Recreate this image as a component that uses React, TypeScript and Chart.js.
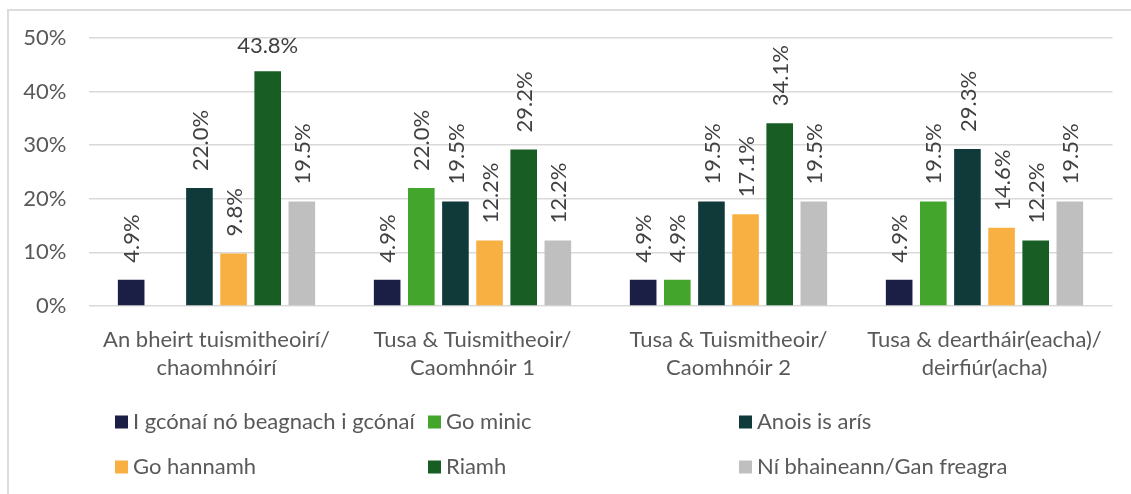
import React, { useEffect, useRef } from "react";
import { Chart, registerables } from "chart.js";

Chart.register(...registerables);

const categories: string[][] = [
  ["An bheirt tuismitheoirí/", "chaomhnóirí"],
  ["Tusa & Tuismitheoir/", "Caomhnóir 1"],
  ["Tusa & Tuismitheoir/", "Caomhnóir 2"],
  ["Tusa & deartháir(eacha)/", "deirfiúr(acha)"],
];

const seriesNames = [
  "I gcónaí nó beagnach i gcónaí",
  "Go minic",
  "Anois is arís",
  "Go hannamh",
  "Riamh",
  "Ní bhaineann/Gan freagra",
];

const alwaysValues = [4.9, 4.9, 4.9, 4.9];
const oftenValues = [null, 22.0, 4.9, 19.5];
const sometimesValues = [22.0, 19.5, 19.5, 29.3];
const rarelyValues = [9.8, 12.2, 17.1, 14.6];
const neverValues = [43.8, 29.2, 34.1, 12.2];
const naValues = [19.5, 12.2, 19.5, 19.5];

const seriesColors = ["#1B1F45", "#43A52B", "#10393A", "#F9B042", "#185E24", "#BFBFBF"];

const yTicks = [0, 10, 20, 30, 40, 50];

const FONT = "Lato";
const FONT_SIZE = 22;

const labelPlugin = {
  id: "barLabels",
  afterDatasetsDraw(chart: any) {
    const ctx = chart.ctx;
    const area = chart.chartArea;
    ctx.save();
    ctx.font = `${FONT_SIZE}px ${FONT}`;
    ctx.fillStyle = "#404040";
    chart.data.datasets.forEach((ds: any, di: number) => {
      const meta = chart.getDatasetMeta(di);
      meta.data.forEach((el: any, i: number) => {
        const v = ds.data[i];
        if (v === null || v === undefined) return;
        const text = v.toFixed(1) + "%";
        const w = ctx.measureText(text).width;
        const gap = 17;
        if (el.y - gap - w < area.top - 12) {
          ctx.textAlign = "center";
          ctx.textBaseline = "middle";
          ctx.fillText(text, el.x, el.y - 25);
        } else {
          ctx.save();
          ctx.translate(el.x, el.y - gap);
          ctx.rotate(-Math.PI / 2);
          ctx.textAlign = "left";
          ctx.textBaseline = "middle";
          ctx.fillText(text, 0, 1);
          ctx.restore();
        }
      });
    });
    ctx.restore();
  },
};

const legendPlugin = {
  id: "gridLegend",
  afterDraw(chart: any) {
    const ctx = chart.ctx;
    const colX = [115, 428, 739];
    const rowY = [422, 467];
    const box = 13;
    ctx.save();
    ctx.font = `${FONT_SIZE}px ${FONT}`;
    ctx.textBaseline = "middle";
    ctx.textAlign = "left";
    chart.data.datasets.forEach((ds: any, i: number) => {
      const x = colX[i % 3];
      const y = rowY[Math.floor(i / 3)];
      ctx.fillStyle = ds.backgroundColor;
      ctx.fillRect(x, y - box / 2, box, box);
      ctx.fillStyle = "#595959";
      ctx.fillText(ds.label, x + box + 5, y);
    });
    ctx.restore();
  },
};

export default function App() {
  const ref = useRef<HTMLCanvasElement | null>(null);

  useEffect(() => {
    if (!ref.current) return;
    const valueSets = [alwaysValues, oftenValues, sometimesValues, rarelyValues, neverValues, naValues];
    const chart = new Chart(ref.current, {
      type: "bar",
      data: {
        labels: categories,
        datasets: valueSets.map((vals, i) => ({
          label: seriesNames[i],
          data: vals,
          backgroundColor: seriesColors[i],
          categoryPercentage: 0.8,
          barPercentage: 0.78,
        })),
      },
      options: {
        animation: false,
        responsive: true,
        maintainAspectRatio: false,
        layout: { padding: { top: 38, right: 18.5, left: 0, bottom: 0 } },
        plugins: {
          legend: { display: false },
          tooltip: { enabled: false },
        },
        scales: {
          x: {
            grid: { display: false, drawTicks: false },
            border: { display: false },
            ticks: {
              font: { family: FONT, size: FONT_SIZE, lineHeight: 1.27 },
              color: "#595959",
              padding: 20,
              maxRotation: 0,
              autoSkip: false,
            },
            afterFit(scale: any) {
              scale.height = 188;
            },
          },
          y: {
            min: 0,
            max: 50,
            afterBuildTicks(scale: any) {
              scale.ticks = yTicks.map((v) => ({ value: v }));
            },
            grid: { color: "#D9D9D9", lineWidth: 1.5, drawTicks: false },
            border: { display: false },
            ticks: {
              font: { family: FONT, size: FONT_SIZE },
              color: "#595959",
              padding: 22,
              callback: (v: any) => v + "%",
            },
            afterFit(scale: any) {
              scale.width = 88.5;
            },
          },
        },
      },
      plugins: [labelPlugin, legendPlugin],
    });
    return () => chart.destroy();
  }, []);

  return (
    <div
      style={{
        position: "fixed",
        left: 0,
        top: 0,
        width: 1131,
        height: 494,
        overflow: "hidden",
        background: "#ffffff",
      }}
    >
      <div
        style={{
          position: "absolute",
          left: 7,
          top: 9,
          width: 1150,
          height: 520,
          border: "2px solid #DCDCDC",
          boxSizing: "border-box",
        }}
      />
      <div style={{ position: "absolute", left: 0, top: 0, width: 1131, height: 494 }}>
        <canvas ref={ref} />
      </div>
    </div>
  );
}
